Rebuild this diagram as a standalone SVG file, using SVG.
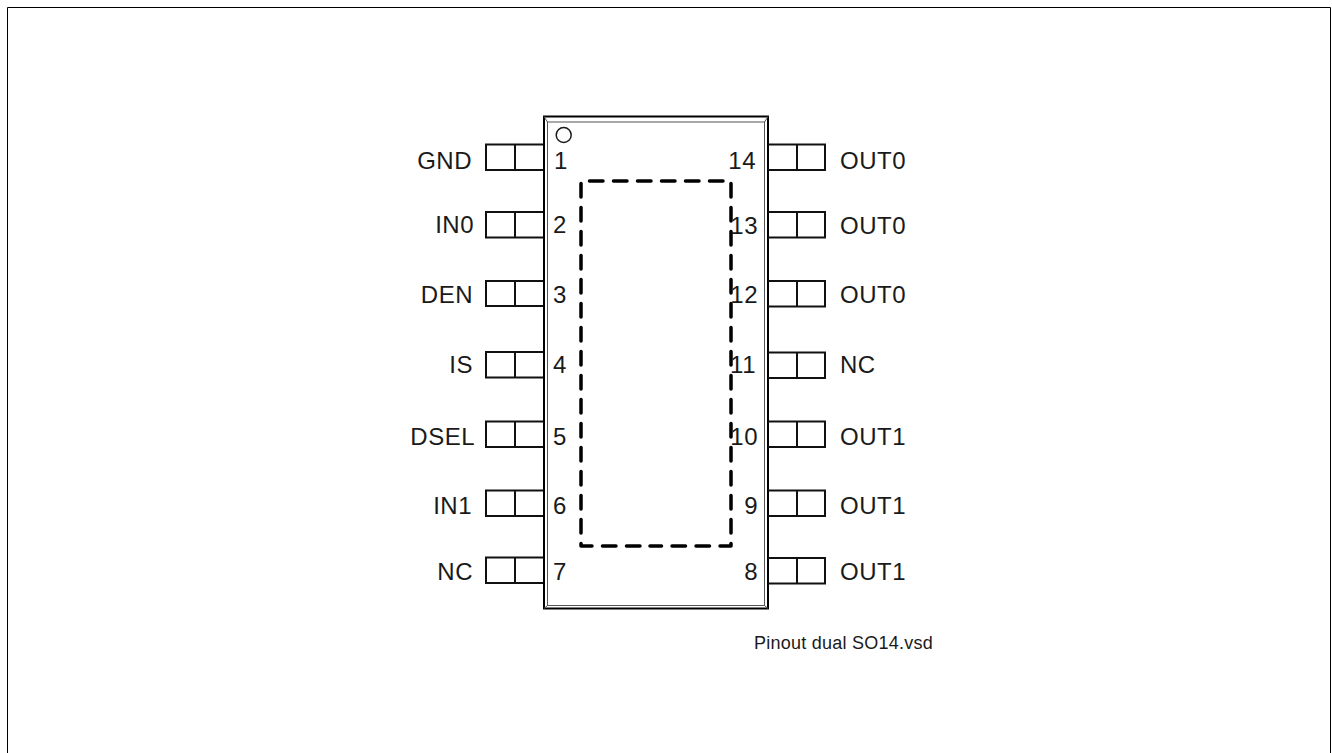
<svg xmlns="http://www.w3.org/2000/svg" width="1332" height="753" viewBox="0 0 1332 753">
<style>
text{font-family:"Liberation Sans",Arial,sans-serif;font-size:24px;letter-spacing:.5px;fill:#1a1a1a}
.pin{fill:none;stroke:#111;stroke-width:2}
.e{text-anchor:end}
.m{text-anchor:middle}
.dash{fill:none;stroke:#000;stroke-width:3.500;stroke-dasharray:13.500 10.500;stroke-linecap:round;stroke-linejoin:round}
</style>
<rect width="1332" height="753" fill="#fff"/>
<path id="frame" d="M7.500 753V7.500H1330.500V753" fill="none" stroke="#000" stroke-width="1"/>
<g id="package">
<rect x="544" y="116.500" width="224" height="492" fill="none" stroke="#000" stroke-width="2"/>
<rect x="547.500" y="122" width="217" height="483.500" fill="none" stroke="#555" stroke-width="1"/>
<path d="M544 116.500L547.500 122M768 116.500L764.500 122M544 608.500L547.500 605.500M768 608.500L764.500 605.500" stroke="#555" stroke-width="1"/>
<circle cx="563.700" cy="135" r="7.500" fill="none" stroke="#1a1a1a" stroke-width="1.500"/>
</g>
<g id="die"><path class="dash" d="M581 183.500V546H650"/><path class="dash" d="M589.500 181H731V546H650"/></g>
<g id="connectors"></g>
<g id="pin1"><path class="pin" d="M543 144.500H486V170H543M515 144.500V170"/><text class="e" x="472" y="169">GND</text><text class="m" x="561" y="169">1</text></g>
<g id="pin2"><path class="pin" d="M543 212H486V237.500H543M515 212V237.500"/><text class="e" x="474" y="233">IN0</text><text class="m" x="560" y="233">2</text></g>
<g id="pin3"><path class="pin" d="M543 281H486V306H543M515 281V306"/><text class="e" x="473" y="303">DEN</text><text class="m" x="560" y="303">3</text></g>
<g id="pin4"><path class="pin" d="M543 352H486V377.500H543M515 352V377.500"/><text class="e" x="473" y="373">IS</text><text class="m" x="560" y="373">4</text></g>
<g id="pin5"><path class="pin" d="M543 421.500H486V447H543M515 421.500V447"/><text class="e" x="475" y="445">DSEL</text><text class="m" x="560" y="445">5</text></g>
<g id="pin6"><path class="pin" d="M543 490.500H486V516H543M515 490.500V516"/><text class="e" x="472" y="514">IN1</text><text class="m" x="560" y="514">6</text></g>
<g id="pin7"><path class="pin" d="M543 557.500H486V583H543M515 557.500V583"/><text class="e" x="473" y="580">NC</text><text class="m" x="560" y="580">7</text></g>
<g id="pin14"><path class="pin" d="M768 144.500H825V170H768M797 144.500V170"/><text x="840" y="169">OUT0</text><text class="e" x="756" y="169">14</text></g>
<g id="pin13"><path class="pin" d="M768 212H825V237.500H768M797 212V237.500"/><text x="840" y="234">OUT0</text><text class="e" x="758" y="234">13</text></g>
<g id="pin12"><path class="pin" d="M768 281H825V306.500H768M797 281V306.500"/><text x="840" y="303">OUT0</text><text class="e" x="758" y="303">12</text></g>
<g id="pin11"><path class="pin" d="M768 352.500H825V378H768M797 352.500V378"/><text x="840" y="373">NC</text><text class="e" x="756" y="373">11</text></g>
<g id="pin10"><path class="pin" d="M768 421.500H825V447H768M797 421.500V447"/><text x="840" y="445">OUT1</text><text class="e" x="758" y="445">10</text></g>
<g id="pin9"><path class="pin" d="M768 490.500H825V516H768M797 490.500V516"/><text x="840" y="514">OUT1</text><text class="e" x="758" y="514">9</text></g>
<g id="pin8"><path class="pin" d="M768 558H825V583.500H768M797 558V583.500"/><text x="840" y="580">OUT1</text><text class="e" x="758" y="580">8</text></g>
<text x="754" y="648.500" style="font-size:18px;letter-spacing:.25px">Pinout dual SO14.vsd</text>
</svg>
